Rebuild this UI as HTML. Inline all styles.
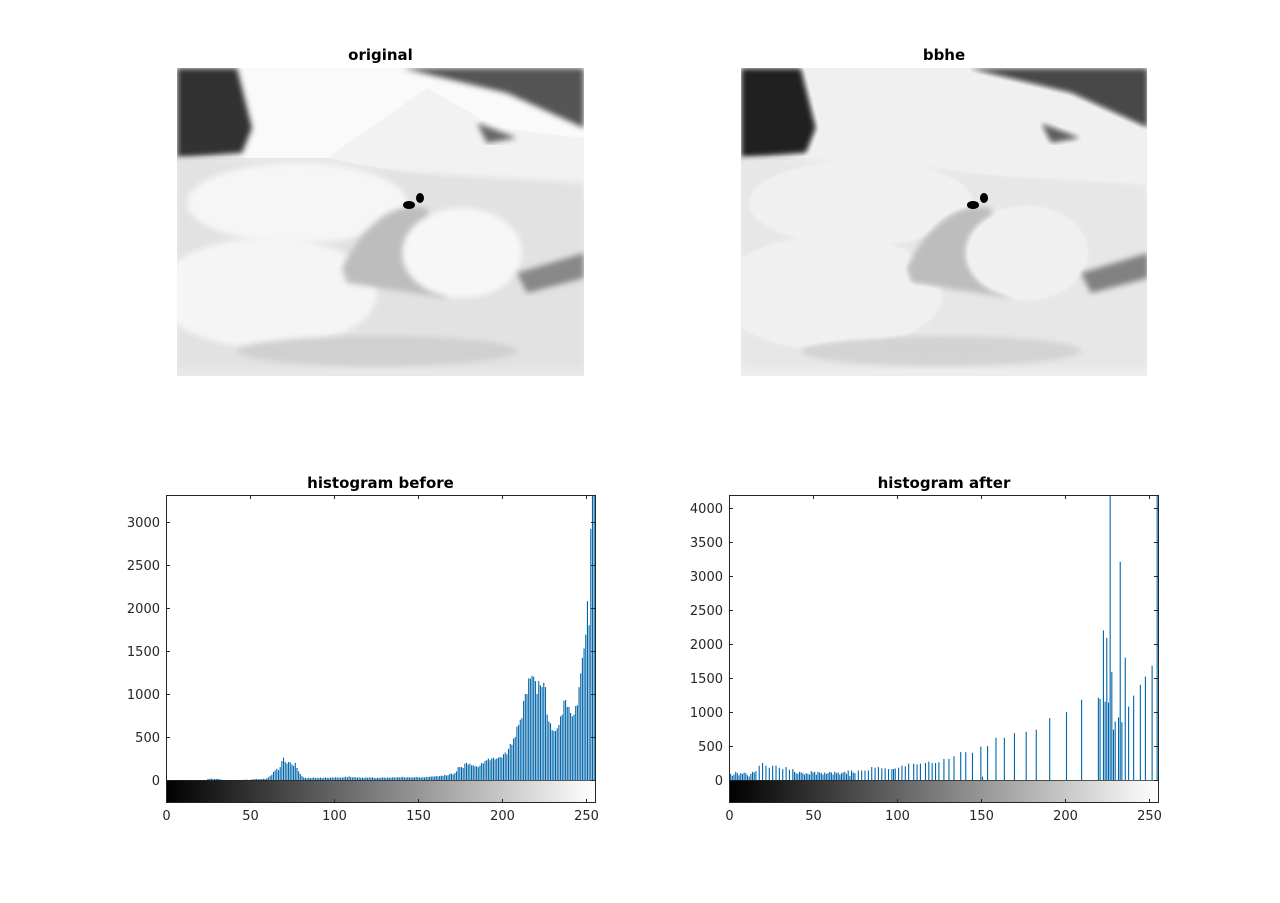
<!DOCTYPE html>
<html><head><meta charset="utf-8"><style>
html,body{margin:0;padding:0;background:#fff;}
svg{display:block;font-family:"DejaVu Sans","Liberation Sans",sans-serif;}
.t{font-weight:bold;font-size:15px;fill:#000;}
.tk{font-size:13px;fill:#262626;}
</style></head><body>
<svg id="fig" width="1280" height="903" viewBox="0 0 1280 903">
<defs>
<linearGradient id="gray" x1="0" x2="1" y1="0" y2="0"><stop offset="0" stop-color="#000"/><stop offset="1" stop-color="#fff"/></linearGradient>
<filter id="bl" x="-10%" y="-10%" width="120%" height="120%"><feGaussianBlur stdDeviation="3"/></filter>
<g id="photo">
<rect x="0" y="0" width="407" height="308" fill="#e8e8e8"/>
<rect x="0" y="0" width="407" height="90" fill="#fafafa"/>
<path d="M225 0 L407 0 L407 60 L330 25 Z" fill="#555" filter="url(#bl)"/>
<path d="M0 0 L60 0 L75 60 L65 85 L0 90 Z" fill="#333" filter="url(#bl)"/>
<path d="M150 90 L250 20 L320 60 L407 70 L407 130 L200 100 Z" fill="#f2f2f2"/>
<path d="M0 90 L407 115 L407 300 L0 300 Z" fill="#e2e2e2" filter="url(#bl)"/>
<ellipse cx="120" cy="135" rx="110" ry="40" fill="#f6f6f6" filter="url(#bl)"/>
<ellipse cx="90" cy="225" rx="110" ry="55" fill="#f5f5f5" filter="url(#bl)"/>
<path d="M165 200 Q200 130 250 140 L270 230 L170 215 Z" fill="#bdbdbd" filter="url(#bl)"/>
<ellipse cx="285" cy="185" rx="60" ry="45" fill="#f7f7f7" filter="url(#bl)"/>
<path d="M340 205 L407 185 L407 210 L350 225 Z" fill="#888" filter="url(#bl)"/>
<ellipse cx="200" cy="283" rx="140" ry="15" fill="#d0d0d0" filter="url(#bl)"/>
<ellipse cx="232" cy="137" rx="6" ry="4" fill="#000"/>
<ellipse cx="243" cy="130" rx="4" ry="5" fill="#000"/>
<path d="M300 55 L340 70 L310 75 Z" fill="#666" filter="url(#bl)"/>
</g>
</defs>

<text class="t" x="380.5" y="60" text-anchor="middle">original</text>
<g transform="translate(177,68)"><svg width="407" height="308"><use href="#photo"/></svg></g>
<text class="t" x="944" y="60" text-anchor="middle">bbhe</text>
<g transform="translate(741,68)" style="filter:contrast(1.2) brightness(0.94)"><svg width="406" height="308"><use href="#photo"/></svg></g>

<text class="t" x="380.5" y="488" text-anchor="middle">histogram before</text>
<text class="t" x="944" y="488" text-anchor="middle">histogram after</text>
<g id="h1"></g>
<g id="h2"></g>
</svg>
<script>
const before = [
150,0,0,0,0,0,0,0,0,0,
0,0,0,0,0,0,0,0,0,0,
0,0,0,0,0,15,12,18,10,14,
12,15,8,5,0,0,0,0,0,0,
0,0,0,0,0,0,3,0,5,0,
3,5,8,10,12,8,12,10,15,12,
18,30,45,60,95,110,130,115,150,220,
260,210,190,210,205,180,165,200,140,100,
70,45,30,25,20,28,22,25,30,22,
26,24,28,22,25,30,26,24,28,30,
25,32,28,30,26,28,32,38,30,42,
35,30,34,30,28,32,25,28,24,30,
26,30,28,32,25,22,28,24,26,30,
28,25,30,28,26,32,30,28,34,30,
32,36,30,28,34,30,28,32,30,36,
34,30,28,32,30,36,35,38,40,42,
40,45,42,48,50,45,60,52,55,70,
75,65,80,100,150,150,150,140,190,200,
180,190,170,170,160,160,150,170,200,190,
220,230,250,230,250,260,240,250,260,270,
260,300,320,300,360,420,410,480,500,620,
640,700,720,920,1000,1000,1180,1180,1210,1200,
1150,1000,1150,1100,1080,1130,1080,760,680,660,
580,570,570,600,640,740,760,920,930,850,
850,780,740,760,860,870,1080,1240,1420,1530,
1690,2080,1800,2920,3400,3400];
const afterDense = [
170,90,60,80,120,100,70,100,90,110,
100,70,50,90,120,110,130,0,210,0,
250,0,210,0,180,0,210,0,210,0,
180,0,160,0,190,0,150,0,160,120,
100,90,120,110,100,80,100,90,80,130,
110,120,80,120,110,100,80,110,90,100,
120,110,80,120,100,110,80,100,110,120,
90,140,60,140,110,100,0,140,0,140,
0,140,0,140,0,190,0,180,0,190,
0,170,0,170,0,160,0,160,160,170];
const afterBins = [101,103,105,107,110,112,114,117,119,121,123,125,128,131,134,138,141,145,150,151,154,159,164,170,177,183,191,201,210,220,221,223,224,225,226,227,228,229,230,232,233,234,236,238,241,245,248,252,255];
const afterCounts = [180,210,200,240,240,230,240,250,270,250,250,260,310,310,350,410,410,400,490,50,500,620,620,690,710,740,910,1000,1180,1210,1190,2200,1150,2090,1140,4400,1590,740,860,920,3210,850,1800,1080,1240,1400,1520,1680,4400];
const beforeYTicks = [0,500,1000,1500,2000,2500,3000];
const afterYTicks = [0,500,1000,1500,2000,2500,3000,3500,4000];
const xTicks = [0,50,100,150,200,250];

const NS="http://www.w3.org/2000/svg";
function mk(tag,attrs,parent){const e=document.createElementNS(NS,tag);for(const k in attrs)e.setAttribute(k,attrs[k]);parent.appendChild(e);return e;}

function drawHist(g,vals,bins,cfg){
  const L=cfg.left,R=cfg.right,T=495,B=803,z=780;
  const sx=v=>L+(v)/(255)*(R-L)*(255/255.5);
  const sy=v=>z-(v/cfg.ymax)*(z-T);
  const clipId=cfg.id+'clip';
  const cp=mk('clipPath',{id:clipId},g);mk('rect',{x:L,y:T,width:R-L,height:B-T},cp);
  const cb=mk('rect',{x:L,y:z,width:R-L,height:B-z,fill:'url(#gray)'},g);
  
  
  const bg=mk('g',{'clip-path':'url(#'+clipId+')'},g);
  for(let i=0;i<vals.length;i++){
    if(!vals[i])continue;
    const x=sx(bins[i]);
    const r=mk('rect',{x:x-cfg.bw/2,y:sy(vals[i]),width:cfg.bw,height:z-sy(vals[i]),fill:'#0066aa'},bg);
    
    
  }
  const ax=mk('rect',{x:L+0.5,y:T+0.5,width:R-L,height:B-T-1,fill:'none',stroke:'#262626','stroke-width':1},g);
  
  
  mk('line',{x1:L,x2:R,y1:z+0.5,y2:z+0.5,stroke:'#262626','stroke-width':0.8},g);
  cfg.yt.forEach(t=>{const y=Math.round(sy(t))+0.5;
    mk('line',{x1:L,x2:L+4,y1:y,y2:y,stroke:'#262626'},g);
    mk('line',{x1:R-4,x2:R,y1:y,y2:y,stroke:'#262626'},g);
    const tx=mk('text',{x:L-6,y:y+4.5,'text-anchor':'end',class:'tk'},g);tx.textContent=t;
    
    
  });
  xTicks.forEach(t=>{const x=Math.round(sx(t))+0.5;
    mk('line',{x1:x,x2:x,y1:T,y2:T+4,stroke:'#262626'},g);
    mk('line',{x1:x,x2:x,y1:B-4,y2:B,stroke:'#262626'},g);
    const tx=mk('text',{x:x,y:B+17,'text-anchor':'middle',class:'tk'},g);tx.textContent=t;
    
    
  });
}
const bBins=before.map((_,i)=>i);
drawHist(document.getElementById('h1'),before,bBins,{id:'a',left:166,right:595,ymax:3314,yt:beforeYTicks,bw:1.1});
const aVals=afterDense.concat(afterCounts);
const aBins=afterDense.map((_,i)=>i).concat(afterBins);
drawHist(document.getElementById('h2'),aVals,aBins,{id:'b',left:729,right:1158,ymax:4190,yt:afterYTicks,bw:1.1});
</script>
</body></html>
